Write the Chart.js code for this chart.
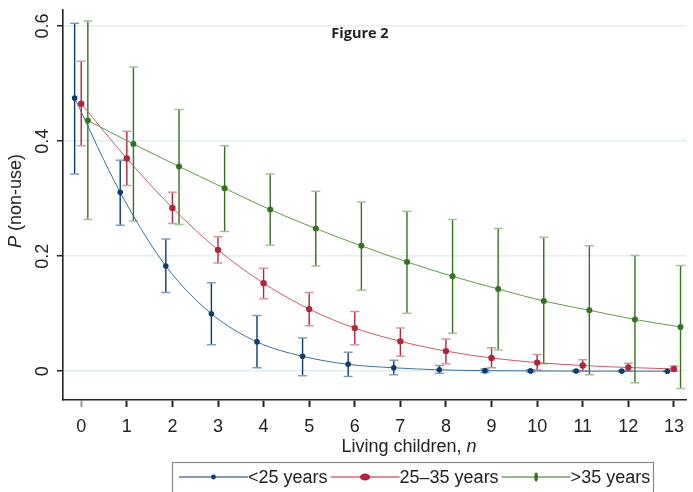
<!DOCTYPE html>
<html>
<head>
<meta charset="utf-8">
<script src="https://cdn.jsdelivr.net/npm/chart.js@4.4.1/dist/chart.umd.min.js"></script>
<style>
  html, body { margin: 0; padding: 0; background: #fff; }
</style>
</head>
<body>
<canvas id="chart" width="693" height="492"></canvas>
<script>
// Data
const children = [0, 1, 2, 3, 4, 5, 6, 7, 8, 9, 10, 11, 12, 13];
const seriesNames = ['<25 years', '25\u201335 years', '>35 years'];

const youngP  = [0.475, 0.311, 0.183, 0.100, 0.051, 0.026, 0.012, 0.006, 0.0025, 0.001, 0.0006, 0.0003, 0.0002, 0.0001];
const youngLo = [0.343, 0.254, 0.137, 0.046, 0.006, -0.008, -0.009, -0.006, -0.0035, -0.002, -0.0015, -0.001, -0.0008, -0.0005];
const youngHi = [0.605, 0.367, 0.230, 0.154, 0.097, 0.058, 0.033, 0.019, 0.010, 0.004, 0.0027, 0.0016, 0.0012, 0.0007];

const midP  = [0.465, 0.370, 0.284, 0.211, 0.153, 0.108, 0.075, 0.052, 0.035, 0.023, 0.015, 0.010, 0.0065, 0.004];
const midLo = [0.392, 0.323, 0.257, 0.188, 0.126, 0.079, 0.046, 0.026, 0.013, 0.006, 0.002, 0.0005, 0.0, 0.0];
const midHi = [0.539, 0.417, 0.311, 0.234, 0.179, 0.137, 0.104, 0.075, 0.056, 0.041, 0.029, 0.020, 0.014, 0.009];

const oldP  = [0.436, 0.395, 0.356, 0.318, 0.281, 0.248, 0.218, 0.190, 0.165, 0.143, 0.122, 0.106, 0.090, 0.077];
const oldLo = [0.264, 0.261, 0.255, 0.243, 0.219, 0.183, 0.141, 0.101, 0.066, 0.037, 0.013, -0.006, -0.020, -0.030];
const oldHi = [0.609, 0.529, 0.455, 0.392, 0.343, 0.313, 0.294, 0.278, 0.264, 0.248, 0.233, 0.218, 0.201, 0.184];

const yTicks = [0, 0.2, 0.4, 0.6];
const yTickLabels = ['0', '0.2', '0.4', '0.6'];

// horizontal shift of each group so the bars don't overlap
const dodge = [-0.145, 0, 0.145];

const FONT = '"Liberation Sans", Arial, Helvetica, sans-serif';
const INK = '#222';

function points(vals, shift) {
  return children.map((n, i) => ({ x: n + shift, y: vals[i] }));
}

function makeSeries(i, vals, lo, hi, c) {
  return {
    label: seriesNames[i],
    data: points(vals, dodge[i]),
    lo: lo, hi: hi,
    borderColor: c.line,
    backgroundColor: c.mark,
    pointBackgroundColor: c.mark,
    pointBorderColor: c.mark,
    pointRadius: c.r,
    pointBorderWidth: 0,
    borderWidth: 1,
    cubicInterpolationMode: 'monotone',
    barColor: c.bar,
    capColor: c.cap,
    legendMark: c.legendMark
  };
}

const blue  = { line: '#3a6f9e', mark: '#0b3d6e', bar: '#0b3d6e', cap: '#7f9cba', r: 2.8, legendMark: [2.4, 2.4] };
const red   = { line: '#c85a64', mark: '#b0263a', bar: '#b0263a', cap: '#d9959c', r: 3.2, legendMark: [5, 3.6] };
const green = { line: '#5f9a48', mark: '#33721f', bar: '#33721f', cap: '#a3c296', r: 3.0, legendMark: [1.8, 4.5] };

// Error bars (drawn under the lines and markers)
const errorBars = {
  id: 'errorBars',
  beforeDatasetsDraw(chart) {
    const { ctx, scales: { x, y } } = chart;
    ctx.save();
    chart.data.datasets.forEach(ds => {
      ds.data.forEach((p, i) => {
        const px = x.getPixelForValue(p.x);
        const top = y.getPixelForValue(ds.hi[i]);
        const bot = y.getPixelForValue(ds.lo[i]);
        ctx.strokeStyle = ds.barColor;
        ctx.lineWidth = 1.4;
        ctx.beginPath();
        ctx.moveTo(px, top);
        ctx.lineTo(px, bot);
        ctx.stroke();
        ctx.strokeStyle = ds.capColor;
        ctx.lineWidth = 1.5;
        ctx.beginPath();
        ctx.moveTo(px - 4.5, top); ctx.lineTo(px + 4.5, top);
        ctx.moveTo(px - 4.5, bot); ctx.lineTo(px + 4.5, bot);
        ctx.stroke();
      });
    });
    ctx.restore();
  }
};

// Texts: rotated y labels, axis titles, figure title, legend
const decorations = {
  id: 'decorations',
  afterDraw(chart) {
    const { ctx, scales: { y } } = chart;
    ctx.save();
    ctx.fillStyle = INK;

    // y tick labels, rotated
    ctx.font = '18px ' + FONT;
    ctx.textAlign = 'center';
    ctx.textBaseline = 'middle';
    yTicks.forEach((v, i) => {
      ctx.save();
      ctx.translate(43.5, y.getPixelForValue(v));
      ctx.rotate(-Math.PI / 2);
      ctx.fillText(yTickLabels[i], 0, 0);
      ctx.restore();
    });

    // y title: italic P + (non-use)
    ctx.save();
    ctx.translate(16, 201);
    ctx.rotate(-Math.PI / 2);
    ctx.textAlign = 'left';
    ctx.font = 'italic 18px ' + FONT;
    const wP = ctx.measureText('P').width;
    ctx.font = '18px ' + FONT;
    const wRest = ctx.measureText(' (non-use)').width;
    let sx = -(wP + wRest) / 2;
    ctx.font = 'italic 18px ' + FONT;
    ctx.fillText('P', sx, 0);
    ctx.font = '18px ' + FONT;
    ctx.fillText(' (non-use)', sx + wP, 0);
    ctx.restore();

    // x title: Living children, n (italic n)
    ctx.textAlign = 'left';
    ctx.font = '18px ' + FONT;
    const part1 = 'Living children, ';
    const w1 = ctx.measureText(part1).width;
    ctx.font = 'italic 18px ' + FONT;
    const w2 = ctx.measureText('n').width;
    let tx = 409 - (w1 + w2) / 2;
    ctx.font = '18px ' + FONT;
    ctx.fillText(part1, tx, 447);
    ctx.font = 'italic 18px ' + FONT;
    ctx.fillText('n', tx + w1, 447);

    // figure title
    ctx.textAlign = 'center';
    ctx.font = 'bold 14.5px "Open Sans", sans-serif';
    ctx.fillText('Figure 2', 360, 34);

    // legend box
    ctx.strokeStyle = '#8a8a8a';
    ctx.lineWidth = 1.2;
    ctx.strokeRect(172.5, 462.5, 481, 40);
    ctx.font = '18px ' + FONT;
    ctx.textAlign = 'left';
    const ly = 477;
    let lx = 179;
    chart.data.datasets.forEach(ds => {
      const lineLen = 69;
      ctx.strokeStyle = ds.barColor;
      ctx.lineWidth = 1.2;
      ctx.beginPath();
      ctx.moveTo(lx, ly);
      ctx.lineTo(lx + lineLen, ly);
      ctx.stroke();
      ctx.fillStyle = ds.backgroundColor;
      ctx.beginPath();
      ctx.ellipse(lx + lineLen / 2, ly, ds.legendMark[0], ds.legendMark[1], 0, 0, Math.PI * 2);
      ctx.fill();
      lx += lineLen;
      ctx.fillStyle = INK;
      ctx.fillText(ds.label, lx, ly + 1);
      lx += ctx.measureText(ds.label).width + 3;
    });
    ctx.restore();
  }
};

new Chart(document.getElementById('chart'), {
  type: 'line',
  data: {
    datasets: [
      makeSeries(0, youngP, youngLo, youngHi, blue),
      makeSeries(1, midP, midLo, midHi, red),
      makeSeries(2, oldP, oldLo, oldHi, green)
    ]
  },
  options: {
    responsive: false,
    animation: false,
    devicePixelRatio: 1,
    layout: { padding: { top: 10, right: 0, left: 0, bottom: 0 } },
    plugins: { legend: { display: false }, tooltip: { enabled: false } },
    scales: {
      x: {
        type: 'linear',
        min: -0.4,
        max: 13.276,
        afterBuildTicks: s => { s.ticks = children.map(v => ({ value: v })); },
        afterFit: s => { s.height = 92; },
        ticks: { color: INK, font: { family: FONT, size: 18 }, padding: 9, maxRotation: 0 },
        grid: {
          drawOnChartArea: false,
          drawTicks: true,
          tickLength: 7,
          tickWidth: 2,
          tickColor: c => (c.tick && c.tick.value === 0 ? '#999' : INK)
        },
        border: { color: INK, width: 1.6 }
      },
      y: {
        min: -0.05,
        max: 0.628,
        afterBuildTicks: s => { s.ticks = yTicks.map(v => ({ value: v })); },
        afterFit: s => { s.width = 63; },
        ticks: { display: false },
        grid: {
          color: '#e2eef1',
          lineWidth: 1.5,
          drawTicks: true,
          tickLength: 6,
          tickWidth: 1.5,
          tickColor: INK
        },
        border: { color: INK, width: 1.6 }
      }
    }
  },
  plugins: [errorBars, decorations]
});
</script>
</body>
</html>
